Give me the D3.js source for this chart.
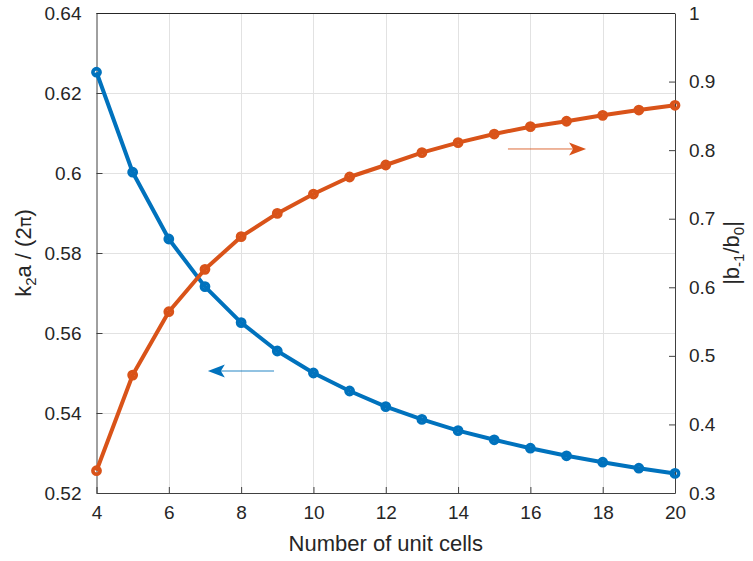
<!DOCTYPE html>
<html>
<head>
<meta charset="utf-8">
<script src="https://cdn.jsdelivr.net/npm/d3@7"></script>
<style>
  body { margin: 0; background: #fff; }
  text { font-family: "Liberation Sans", Arial, sans-serif; fill: #262626; }
</style>
</head>
<body>
<script>
var cells = [4, 5, 6, 7, 8, 9, 10, 11, 12, 13, 14, 15, 16, 17, 18, 19, 20];
var k2a = [0.6252, 0.6002, 0.5835, 0.5716, 0.5626, 0.5555, 0.5500, 0.5455, 0.5416, 0.5384,
           0.5356, 0.5333, 0.5312, 0.5293, 0.5277, 0.5262, 0.5249];
var bRatio = [0.3325, 0.4720, 0.5644, 0.6262, 0.6738, 0.7077, 0.7360, 0.7608, 0.7783, 0.7963,
              0.8109, 0.8235, 0.8342, 0.8421, 0.8508, 0.8585, 0.8654];
var xTicks = [4, 6, 8, 10, 12, 14, 16, 18, 20];
var leftTicks = [0.52, 0.54, 0.56, 0.58, 0.6, 0.62, 0.64];
var rightTicks = [0.3, 0.4, 0.5, 0.6, 0.7, 0.8, 0.9, 1];

var blue = "#0072BD";
var orange = "#D95319";

var W = 753, H = 561;
var pL = 96.5, pR = 675, pT = 13, pB = 493;

var svg = d3.select("body").append("svg")
  .attr("width", W)
  .attr("height", H);

var x = d3.scaleLinear().domain([4, 20]).range([pL, pR]);
var yL = d3.scaleLinear().domain([0.52, 0.64]).range([pB, pT]);
var yR = d3.scaleLinear().domain([0.3, 1]).range([pB, pT]);

// grid
var grid = svg.append("g").attr("stroke", "#e2e2e2").attr("stroke-width", 1);
grid.selectAll("line.gx").data(xTicks.slice(1, -1)).enter().append("line")
  .attr("x1", function(d) { return Math.round(x(d)) + 0.5; })
  .attr("x2", function(d) { return Math.round(x(d)) + 0.5; })
  .attr("y1", pT).attr("y2", pB);
grid.selectAll("line.gy").data(leftTicks.slice(1, -1)).enter().append("line")
  .attr("y1", function(d) { return Math.round(yL(d)) + 0.5; })
  .attr("y2", function(d) { return Math.round(yL(d)) + 0.5; })
  .attr("x1", pL).attr("x2", pR);

// axes
var xAxis = svg.append("g")
  .attr("transform", "translate(0," + pB + ")")
  .call(d3.axisBottom(x).tickValues(xTicks).tickSizeInner(-6).tickSizeOuter(0).tickPadding(13)
    .tickFormat(d3.format("d")));
var lAxis = svg.append("g")
  .attr("transform", "translate(" + pL + ",0)")
  .call(d3.axisLeft(yL).tickValues(leftTicks).tickSizeInner(-6).tickSizeOuter(0).tickPadding(15)
    .tickFormat(function(d) { return String(+d.toFixed(2)); }));
var rAxis = svg.append("g")
  .attr("transform", "translate(" + pR + ",0)")
  .call(d3.axisRight(yR).tickValues(rightTicks).tickSizeInner(-6).tickSizeOuter(0).tickPadding(14)
    .tickFormat(function(d) { return String(+d.toFixed(1)); }));
[xAxis, lAxis, rAxis].forEach(function(a) {
  a.selectAll("path, line").attr("stroke", "#404040");
  a.selectAll("text").attr("font-size", 19).attr("fill", "#262626")
    .attr("font-family", "Liberation Sans, Arial, sans-serif");
});
svg.append("line")
  .attr("x1", pL).attr("x2", pR).attr("y1", pT + 0.5).attr("y2", pT + 0.5)
  .attr("stroke", "#262626");

// series
var line = d3.line();
function drawSeries(vals, yScale, color) {
  var pts = cells.map(function(c, i) { return [x(c), yScale(vals[i])]; });
  svg.append("path")
    .attr("d", line(pts))
    .attr("fill", "none")
    .attr("stroke", color)
    .attr("stroke-width", 4)
    .attr("stroke-linejoin", "round");
  svg.append("g").selectAll("circle").data(pts).enter().append("circle")
    .attr("cx", function(d) { return d[0]; })
    .attr("cy", function(d) { return d[1]; })
    .attr("r", 3.6)
    .attr("fill", "none")
    .attr("stroke", color)
    .attr("stroke-width", 3.6);
}
drawSeries(k2a, yL, blue);
drawSeries(bRatio, yR, orange);

// annotation arrows
function arrow(x1, x2, yy, color) {
  var dir = x2 > x1 ? 1 : -1;
  var len = 17, hw = 6.5, back = 4;
  svg.append("line")
    .attr("x1", x1).attr("x2", x2 - dir * len + dir * back)
    .attr("y1", yy).attr("y2", yy)
    .attr("stroke", color).attr("stroke-width", 1).attr("opacity", 0.85);
  svg.append("path")
    .attr("d", "M" + x2 + "," + yy +
      "L" + (x2 - dir * len) + "," + (yy - hw) +
      "L" + (x2 - dir * (len - back)) + "," + yy +
      "L" + (x2 - dir * len) + "," + (yy + hw) + "Z")
    .attr("fill", color);
}
arrow(x(8.91), x(7.08), yL(0.5505), blue);
arrow(x(15.38), x(17.54), yR(0.8017), orange);

// labels
svg.append("text")
  .attr("x", (pL + pR) / 2).attr("y", 551)
  .attr("text-anchor", "middle").attr("font-size", 22)
  .text("Number of unit cells");

var ll = svg.append("text")
  .attr("transform", "translate(31," + ((pT + pB) / 2) + ") rotate(-90)")
  .attr("text-anchor", "middle").attr("font-size", 22);
ll.append("tspan").text("k");
ll.append("tspan").attr("font-size", 15).attr("dy", 5).text("2");
ll.append("tspan").attr("dy", -5).text("a / (2");
ll.append("tspan").attr("font-family", "DejaVu Sans, sans-serif").attr("font-size", 18).text("\u03c0");
ll.append("tspan").text(")");

var rl = svg.append("text")
  .attr("transform", "translate(739," + ((pT + pB) / 2) + ") rotate(-90)")
  .attr("text-anchor", "middle").attr("font-size", 22);
rl.append("tspan").text("|b");
rl.append("tspan").attr("font-size", 15).attr("dy", 5).text("-1");
rl.append("tspan").attr("dy", -5).text("/b");
rl.append("tspan").attr("font-size", 15).attr("dy", 5).text("0");
rl.append("tspan").attr("dy", -5).text("|");
</script>
</body>
</html>
